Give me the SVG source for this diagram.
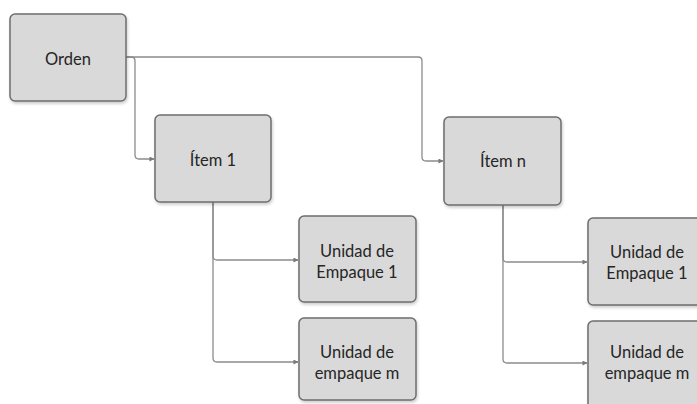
<svg xmlns="http://www.w3.org/2000/svg" width="697" height="404" viewBox="0 0 697 404">
<defs>
<marker id="arr" viewBox="0 0 6 6" refX="5.5" refY="3" markerWidth="5" markerHeight="5" orient="auto" markerUnits="userSpaceOnUse">
<path d="M0,0 L6,3 L0,6 z" fill="#7a7a7a"/>
</marker>
<filter id="sh" x="-10%" y="-10%" width="125%" height="125%">
<feGaussianBlur in="SourceAlpha" stdDeviation="1.5"/>
<feOffset dx="1" dy="2" result="b"/>
<feComponentTransfer><feFuncA type="linear" slope="0.2"/></feComponentTransfer>
<feMerge><feMergeNode/><feMergeNode in="SourceGraphic"/></feMerge>
</filter>
</defs>
<style>
.box{fill:#d9d9d9;stroke:#6e6e6e;stroke-width:1.5;filter:url(#sh)}
.t{font-family:Lato,"Open Sans","Liberation Sans",sans-serif;font-size:16.5px;fill:#262626;text-anchor:middle}
.c{fill:none;stroke:#8c8c8c;stroke-width:1.3;marker-end:url(#arr)}
</style>
<rect width="697" height="404" fill="#ffffff"/>
<g id="connectors">
<path class="c" d="M126,57 H418 Q422,57 422,61 V157 Q422,161 426,161 H443"/>
<path class="c" d="M126,57 H131 Q135,57 135,61 V155 Q135,159 139,159 H154"/>
<path class="c" d="M213,202 V256 Q213,260 217,260 H298"/>
<path class="c" d="M213,202 V358 Q213,362 217,362 H298"/>
<path class="c" d="M503,205 V258 Q503,262 507,262 H587"/>
<path class="c" d="M503,205 V359 Q503,363 507,363 H587"/>
</g>
<g id="orden">
<rect class="box" x="10" y="14" width="116" height="87" rx="5"/>
<text class="t" x="68" y="65">Orden</text>
</g>
<g id="item1">
<rect class="box" x="155" y="115" width="116" height="87" rx="5"/>
<text class="t" x="213" y="166">Ítem 1</text>
</g>
<g id="itemn">
<rect class="box" x="444" y="117" width="117" height="88" rx="5"/>
<text class="t" x="503" y="167">Ítem n</text>
</g>
<g id="unidad1-left">
<rect class="box" x="299" y="216" width="117" height="86" rx="5"/>
<text class="t" x="357" y="257">Unidad de</text>
<text class="t" x="357" y="278">Empaque 1</text>
</g>
<g id="unidadm-left">
<rect class="box" x="299" y="318" width="117" height="82" rx="5"/>
<text class="t" x="357" y="358">Unidad de</text>
<text class="t" x="357" y="379">empaque m</text>
</g>
<g id="unidad1-right">
<rect class="box" x="588" y="218" width="117" height="87" rx="5"/>
<text class="t" x="647" y="258">Unidad de</text>
<text class="t" x="647" y="279">Empaque 1</text>
</g>
<g id="unidadm-right">
<rect class="box" x="588" y="321" width="117" height="90" rx="5"/>
<text class="t" x="647" y="358">Unidad de</text>
<text class="t" x="647" y="379">empaque m</text>
</g>
</svg>
